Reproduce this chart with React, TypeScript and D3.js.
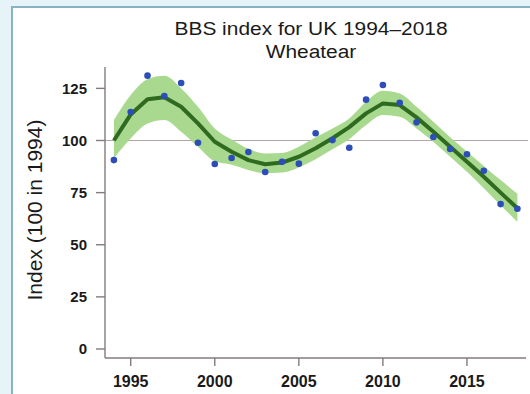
import React from "react";
import * as d3 from "d3";

const years = d3.range(1994, 2019);
const annualIndex = [90.6, 113.7, 131.1, 121.3, 127.6, 98.9, 88.7, 91.6, 94.5, 84.9, 89.8, 88.9, 103.5, 100.2, 96.5, 119.6, 126.6, 118.1, 108.7, 101.7, 95.9, 93.4, 85.5, 69.5, 67.3];
const smoothedIndex = [100, 112.5, 119.8, 120.7, 116.2, 108.2, 99.4, 94.6, 90.6, 88.6, 89.4, 92.2, 96.3, 101.1, 106.4, 113, 117.8, 117, 111.1, 104.2, 97, 89.8, 82.6, 75, 67.5];
const upperLimit = [109.8, 121.8, 129.4, 131, 125, 116.2, 105.8, 100.5, 96, 93.8, 94, 97, 101.5, 105.8, 110.6, 118.6, 123.9, 122.6, 116.2, 109, 101.5, 94.6, 87.8, 81, 74.5];
const lowerLimit = [91.5, 101, 108.2, 109.8, 104.2, 97, 90, 88.4, 85.9, 84.3, 84.6, 87.1, 91, 95.8, 100.6, 107.4, 112.2, 111.4, 105.8, 99.4, 92.2, 85, 77.1, 69, 61];
const xTicks = [1995, 2000, 2005, 2010, 2015];
const yTicks = [0, 25, 50, 75, 100, 125];
const titleLines = ["BBS index for UK 1994\u20132018", "Wheatear"];
const yLabel = "Index (100 in 1994)";

const W = 530;
const H = 394;
const FONT = "'Liberation Sans', Arial, sans-serif";

export default function App() {
  const x = d3.scaleLinear().domain([1994, 2018]).range([113.9, 517.4]);
  const y = d3.scaleLinear().domain([0, 100]).range([349, 140.5]);
  const axisX = 105;
  const axisY = 358;

  const band = d3
    .area<number>()
    .x((_, i) => x(years[i]))
    .y0((_, i) => y(lowerLimit[i]))
    .y1((_, i) => y(upperLimit[i]))
    .curve(d3.curveMonotoneX);

  const trend = d3
    .line<number>()
    .x((_, i) => x(years[i]))
    .y((d) => y(d));

  return (
    <svg
      width={W}
      height={H}
      style={{ position: "absolute", left: 0, top: 0, display: "block" }}
    >
      <rect x={0} y={0} width={W} height={H} fill="#e6f4fa" />
      <rect x={12} y={7} width={W} height={H} fill="#ffffff" stroke="#88b3c3" strokeWidth={2} />

      <g transform={`translate(311,0) scale(1.1,1)`} fontFamily={FONT} fontSize={19} fill="#1a1a1a" textAnchor="middle">
        <text x={0} y={35}>{titleLines[0]}</text>
        <text x={0} y={58}>{titleLines[1]}</text>
      </g>

      <text
        transform={`translate(42,210) rotate(-90)`}
        textAnchor="middle"
        fontFamily={FONT}
        fontSize={21}
        fill="#1a1a1a"
      >
        {yLabel}
      </text>

      {/* reference level */}
      <line x1={axisX} x2={528} y1={y(100)} y2={y(100)} stroke="#b5a5a5" strokeWidth={1.2} />

      <path d={band(smoothedIndex) ?? ""} fill="#a9d98f" />
      <path d={trend(smoothedIndex) ?? ""} fill="none" stroke="#2e6a1f" strokeWidth={4} strokeLinejoin="round" />

      {annualIndex.map((v, i) => (
        <circle key={years[i]} cx={x(years[i])} cy={y(v)} r={3.3} fill="#2d4db8" />
      ))}

      {/* axes */}
      <line x1={axisX} x2={axisX} y1={67} y2={axisY} stroke="#857b7b" strokeWidth={1.4} />
      <line x1={axisX} x2={526} y1={axisY} y2={axisY} stroke="#857b7b" strokeWidth={1.4} />

      {yTicks.map((t) => (
        <g key={t}>
          <line x1={axisX - 9} x2={axisX} y1={y(t)} y2={y(t)} stroke="#857b7b" strokeWidth={1.4} />
          <text
            x={87}
            y={y(t)}
            dy="0.36em"
            textAnchor="end"
            fontFamily={FONT}
            fontWeight="bold"
            fontSize={15}
            fill="#1a1a1a"
          >
            {t}
          </text>
        </g>
      ))}

      {xTicks.map((t) => (
        <g key={t}>
          <line x1={x(t)} x2={x(t)} y1={axisY} y2={axisY + 8} stroke="#857b7b" strokeWidth={1.4} />
          <text
            x={x(t)}
            y={387}
            textAnchor="middle"
            fontFamily={FONT}
            fontWeight="bold"
            fontSize={16}
            fill="#1a1a1a"
          >
            {t}
          </text>
        </g>
      ))}
    </svg>
  );
}
